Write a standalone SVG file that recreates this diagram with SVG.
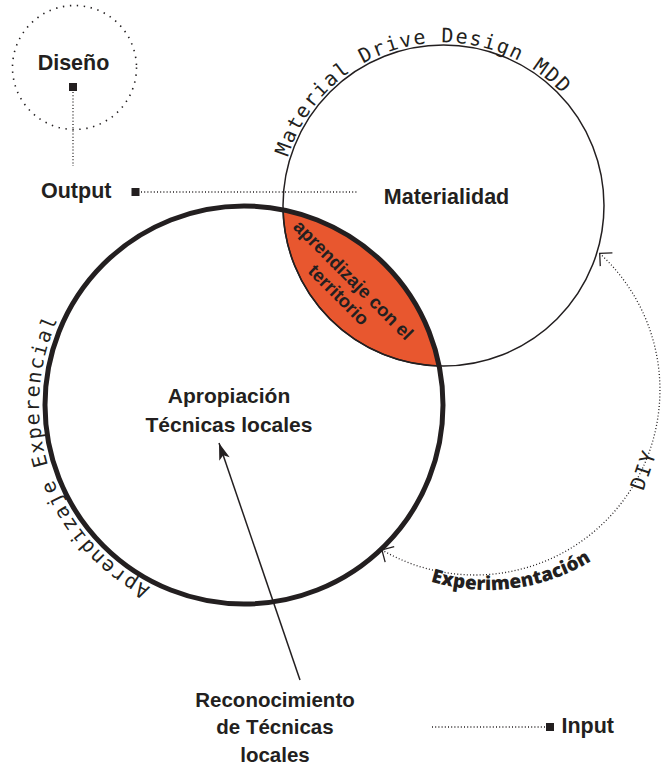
<svg xmlns="http://www.w3.org/2000/svg" width="662" height="771" viewBox="0 0 662 771">
  <style>
    .lbl { font-family: "Liberation Sans", Arial, sans-serif; font-weight: bold; fill: #231f20; }
    .mono { font-family: "DejaVu Sans Mono", "Liberation Mono", monospace; font-size: 20px; fill: #231f20; letter-spacing: 1.6px; }
    .dot { fill: none; stroke: #231f20; stroke-width: 1.3; stroke-dasharray: 1 2.2; }
    .sq { fill: #231f20; }
  </style>
  <defs>
    <marker id="chevron" markerUnits="userSpaceOnUse" markerWidth="24" markerHeight="24" viewBox="-12 -12 24 24" refX="0" refY="0" orient="auto-start-reverse" overflow="visible">
      <path d="M -9 -9 L 0 0 L -9 9" fill="none" stroke="#231f20" stroke-width="1.3" stroke-dasharray="none"/>
    </marker>
    <marker id="pointer" markerUnits="userSpaceOnUse" markerWidth="24" markerHeight="24" viewBox="-20 -10 24 20" refX="0" refY="0" orient="auto" overflow="visible">
      <path d="M 0 0 L -17 -5.5 L -13 0 L -17 5.5 Z" fill="#231f20"/>
    </marker>
    <path id="arcMDD" d="M 280.5 205.5 A 163 163 0 0 1 606.5 205.5"/>
    <path id="arcAE" d="M 244 610 A 205 205 0 0 1 39 405 A 205 205 0 0 1 244 200"/>
    <path id="arcExp" d="M 347.3 531.7 A 199 199 0 0 0 660.3 490.5"/>
  </defs>

  <!-- Diseño -->
  <g id="diseno">
    <circle cx="74.5" cy="67.5" r="62" fill="none" stroke="#231f20" stroke-width="1.6" stroke-dasharray="1.4 5.6"/>
    <text class="lbl" x="73.5" y="70" font-size="21.5" text-anchor="middle">Diseño</text>
    <rect class="sq" x="69" y="83" width="8" height="8"/>
  </g>

  <!-- Output -->
  <g id="output">
    <text class="lbl" x="41" y="198" font-size="21.5">Output</text>
    <rect class="sq" x="131.5" y="188" width="8" height="8"/>
  </g>

  <!-- Input -->
  <g id="input">
    <rect class="sq" x="546" y="723" width="8" height="8"/>
    <text class="lbl" x="561.5" y="733" font-size="21.5">Input</text>
  </g>

  <!-- overlap of the two circles -->
  <g id="lens">
    <path d="M 283 209.8 A 199 199 0 0 1 439.2 366 A 160.5 160.5 0 0 1 283 209.8 Z" fill="#e8572f" stroke="#231f20" stroke-width="1.5"/>
    <g transform="translate(345.5,288) rotate(45)">
      <text class="lbl" x="0" y="-5" font-size="18.5" text-anchor="middle">aprendizaje con el</text>
      <text class="lbl" x="0" y="16" font-size="18.5" text-anchor="middle">territorio</text>
    </g>
  </g>

  <g id="materialidad">
    <circle cx="443.5" cy="205.5" r="160.5" fill="none" stroke="#231f20" stroke-width="1.5"/>
    <text class="lbl" x="446.5" y="204" font-size="21.5" text-anchor="middle">Materialidad</text>
    <text class="mono"><textPath href="#arcMDD" startOffset="49">Material Drive Design MDD</textPath></text>
  </g>

  <g id="apropiacion">
    <circle cx="244" cy="405" r="199" fill="none" stroke="#231f20" stroke-width="5"/>
    <text class="lbl" x="229" y="403" font-size="21" text-anchor="middle">Apropiación</text>
    <text class="lbl" x="229" y="432" font-size="21" text-anchor="middle">Técnicas locales</text>
    <text class="mono"><textPath href="#arcAE" startOffset="97">Aprendizaje Experencial</textPath></text>
  </g>

  <g id="reconocimiento">
    <text class="lbl" x="275" y="707" font-size="20.5" text-anchor="middle">Reconocimiento</text>
    <text class="lbl" x="275" y="734" font-size="20.5" text-anchor="middle">de Técnicas</text>
    <text class="lbl" x="275" y="762" font-size="20.5" text-anchor="middle">locales</text>
  </g>

  <!-- connectors -->
  <g id="connectors">
    <line class="dot" x1="73" y1="92" x2="73" y2="166"/>
    <line class="dot" x1="141" y1="192" x2="358" y2="192"/>
    <line class="dot" x1="432" y1="727" x2="545" y2="727"/>
    <line x1="300" y1="680" x2="219" y2="443" stroke="#231f20" stroke-width="1.5" marker-end="url(#pointer)"/>
    <path class="dot" d="M 599.7 253.4 A 185 185 0 0 1 381.9 549.9" marker-start="url(#chevron)" marker-end="url(#chevron)"/>
    <text font-family="'Open Sans', 'DejaVu Sans', sans-serif" font-weight="800" font-size="19" fill="#231f20"><textPath href="#arcExp" startOffset="98">Experimentación</textPath></text>
    <text class="mono" transform="translate(650,472) rotate(-71)" text-anchor="middle">DIY</text>
  </g>
</svg>
